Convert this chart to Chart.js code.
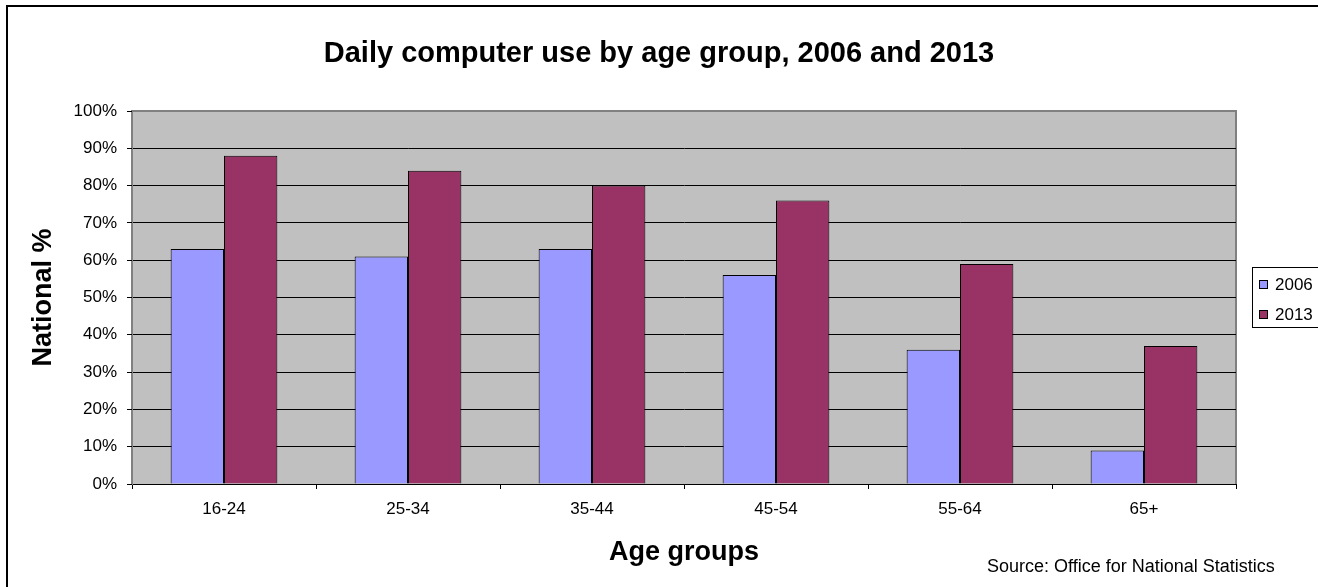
<!DOCTYPE html>
<html>
<head>
<meta charset="utf-8">
<title>Daily computer use by age group</title>
<script src="https://cdn.jsdelivr.net/npm/chart.js@4"></script>
<style>
  html, body { margin: 0; padding: 0; background: #fff; }
  #wrap { width: 1318px; height: 587px; position: relative; }
</style>
</head>
<body>
<div id="wrap"><canvas id="chart"></canvas></div>
<script>
// Data
const ageGroups = ["16-24", "25-34", "35-44", "45-54", "55-64", "65+"];
const use2006 = [63, 61, 63, 56, 36, 9];
const use2013 = [88, 84, 80, 76, 59, 37];
const yearLabels = ["2006", "2013"];
const yTicks = [0, 10, 20, 30, 40, 50, 60, 70, 80, 90, 100];

const chartTitle = "Daily computer use by age group, 2006 and 2013";
const sourceText = "Source: Office for National Statistics";

const FONT = '"Liberation Sans", Arial, Helvetica, sans-serif';
Chart.defaults.font.family = FONT;
Chart.defaults.color = "#000";

// background, plot area and extra texts
const decor = {
  id: "decor",
  beforeDraw(chart) {
    const c = chart.ctx;
    const a = chart.chartArea;
    c.save();
    c.fillStyle = "#fff";
    c.fillRect(0, 0, chart.width, chart.height);
    c.fillStyle = "#c0c0c0";
    c.fillRect(a.left, a.top, a.right - a.left, a.bottom - a.top);
    c.strokeStyle = "#808080";
    c.lineWidth = 2;
    c.beginPath();
    c.moveTo(a.left, a.bottom);
    c.lineTo(a.left, a.top);
    c.lineTo(a.right, a.top);
    c.lineTo(a.right, a.bottom);
    c.stroke();
    c.restore();
  },
  afterDraw(chart) {
    const c = chart.ctx;
    c.save();
    // outer frame (cut by the picture edge on right / bottom)
    c.strokeStyle = "#000";
    c.lineWidth = 2;
    c.strokeRect(7, 6, 1400, 700);

    // title
    c.fillStyle = "#000";
    c.textAlign = "center";
    c.textBaseline = "middle";
    c.font = "bold 29px " + FONT;
    c.fillText(chartTitle, 659, 54);

    // source note
    c.textAlign = "left";
    c.font = "18px " + FONT;
    c.fillText(sourceText, 987, 567);

    // legend box
    c.lineWidth = 1;
    c.strokeStyle = "#000";
    c.strokeRect(1252.5, 267.5, 100, 60);
    c.font = "17px " + FONT;
    chart.data.datasets.forEach((ds, i) => {
      const y = 284 + i * 30;
      c.fillStyle = ds.backgroundColor;
      c.fillRect(1259, y - 4, 8, 8);
      c.strokeRect(1259.5, y - 3.5, 8, 8);
      c.fillStyle = "#000";
      c.fillText(ds.label, 1275, y + 1);
    });
    c.restore();
  }
};

new Chart(document.getElementById("chart"), {
  type: "bar",
  data: {
    labels: ageGroups,
    datasets: [
      {
        label: yearLabels[0],
        data: use2006,
        backgroundColor: "#9999ff",
        borderColor: "#000",
        borderWidth: 1,
        categoryPercentage: 0.58,
        barPercentage: 1.0
      },
      {
        label: yearLabels[1],
        data: use2013,
        backgroundColor: "#993366",
        borderColor: "#000",
        borderWidth: 1,
        categoryPercentage: 0.58,
        barPercentage: 1.0
      }
    ]
  },
  options: {
    responsive: true,
    maintainAspectRatio: false,
    animation: false,
    layout: { padding: { left: 0, top: 111, right: 82, bottom: 0 } },
    plugins: {
      legend: { display: false },
      title: { display: false },
      tooltip: { enabled: false }
    },
    scales: {
      x: {
        afterFit(scale) { scale.height = 103; },
        grid: {
          drawOnChartArea: false,
          drawTicks: true,
          tickLength: 5,
          color: "#000"
        },
        border: { color: "#000", width: 1 },
        ticks: { font: { size: 17 }, padding: 10, color: "#000", maxRotation: 0 },
        title: {
          display: true,
          text: "Age groups",
          font: { size: 27, weight: "bold" },
          padding: { top: 0, bottom: 18 },
          color: "#000"
        }
      },
      y: {
        min: 0,
        max: 100,
        afterFit(scale) { scale.width = 132; },
        afterBuildTicks(scale) {
          scale.ticks = yTicks.map(v => ({ value: v }));
        },
        grid: {
          color: ctx => (ctx.tick && ctx.tick.value === 100 ? "#808080" : "#000"),
          tickColor: "#000",
          lineWidth: 1,
          drawTicks: true,
          tickLength: 5
        },
        border: { color: "#808080", width: 1 },
        ticks: {
          font: { size: 17 },
          padding: 10,
          color: "#000",
          callback: v => v + "%"
        },
        title: {
          display: true,
          text: "National %",
          font: { size: 27, weight: "bold" },
          padding: { top: 27, bottom: 0 },
          color: "#000"
        }
      }
    }
  },
  plugins: [decor]
});
</script>
</body>
</html>
